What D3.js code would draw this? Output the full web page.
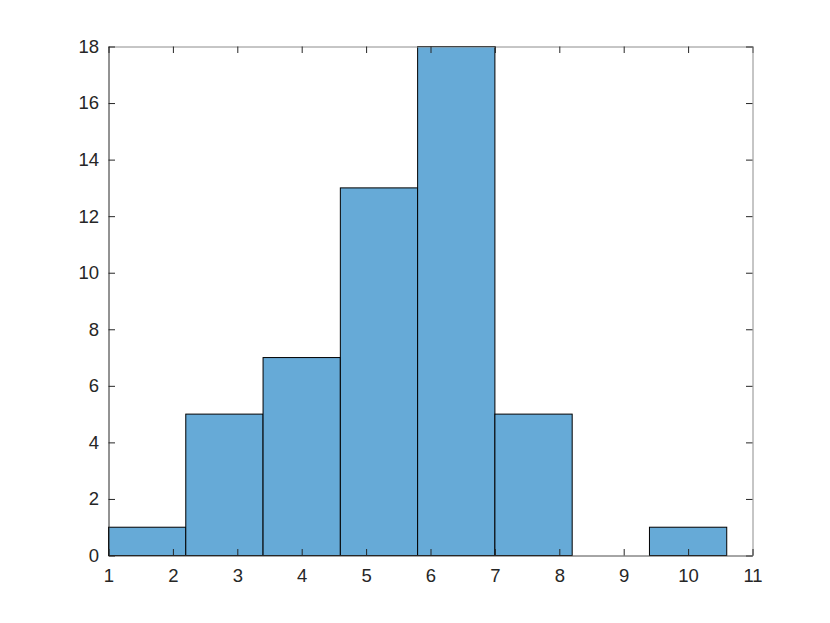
<!DOCTYPE html>
<meta charset="utf-8">
<style>
  body { margin: 0; background: #fff; }
</style>
<body>
<script src="https://cdnjs.cloudflare.com/ajax/libs/d3/7.8.5/d3.min.js"></script>
<script>
// histogram bins (edges) and counts
var binEdges = [1, 2.2, 3.4, 4.6, 5.8, 7.0, 8.2, 9.4, 10.6];
var counts = [1, 5, 7, 13, 18, 5, 0, 1];
var xTicks = [1, 2, 3, 4, 5, 6, 7, 8, 9, 10, 11];
var yTicks = [0, 2, 4, 6, 8, 10, 12, 14, 16, 18];

var width = 830, height = 623;
var margin = {top: 46.5, right: 77.5, bottom: 67.5, left: 108.5};
var w = width - margin.left - margin.right,
    h = height - margin.top - margin.bottom;

var svg = d3.select("body").append("svg")
    .attr("width", width)
    .attr("height", height);

var g = svg.append("g")
    .attr("transform", "translate(" + margin.left + "," + margin.top + ")");

var x = d3.scaleLinear().domain([1, 11]).range([0, w]);
var y = d3.scaleLinear().domain([0, 18]).range([h, 0]);

var bins = counts.map(function (c, i) {
  return {x0: binEdges[i], x1: binEdges[i + 1], n: c};
});

g.selectAll("rect.bar")
    .data(bins.filter(function (d) { return d.n > 0; }))
  .enter().append("rect")
    .attr("class", "bar")
    .attr("x", function (d) { return x(d.x0); })
    .attr("y", function (d) { return y(d.n); })
    .attr("width", function (d) { return x(d.x1) - x(d.x0); })
    .attr("height", function (d) { return y(0) - y(d.n); })
    .style("fill", "#66aad7")
    .style("stroke", "#000")
    .style("stroke-width", 1);

// inward ticks, MATLAB style
var tl = 6.5;
var xTop = g.append("g")
    .call(d3.axisTop(x).tickValues(xTicks).tickSizeInner(-tl).tickSizeOuter(0).tickFormat(""));
var yRight = g.append("g")
    .attr("transform", "translate(" + w + ",0)")
    .call(d3.axisRight(y).tickValues(yTicks).tickSizeInner(-tl).tickSizeOuter(0).tickFormat(""));
var xAxis = g.append("g")
    .attr("transform", "translate(0," + h + ")")
    .call(d3.axisBottom(x).tickValues(xTicks).tickSizeInner(-tl).tickSizeOuter(0).tickPadding(13));
var yAxis = g.append("g")
    .call(d3.axisLeft(y).tickValues(yTicks).tickSizeInner(-tl).tickSizeOuter(0).tickPadding(9.5));

[xTop, yRight].forEach(function (a) {
  a.select(".domain").style("stroke", "#8c8c8c");
  a.selectAll(".tick line").style("stroke", "#262626");
});
xAxis.select(".domain").style("stroke", "#4d4d4d");
yAxis.select(".domain").style("stroke", "#262626");
[xAxis, yAxis].forEach(function (a) {
  a.selectAll(".tick line").style("stroke", "#262626");
  a.selectAll(".tick text")
    .style("font-family", "'Liberation Sans', Arial, sans-serif")
    .style("font-size", "18.5px")
    .style("fill", "#262626");
});
</script>
</body>
</html>
